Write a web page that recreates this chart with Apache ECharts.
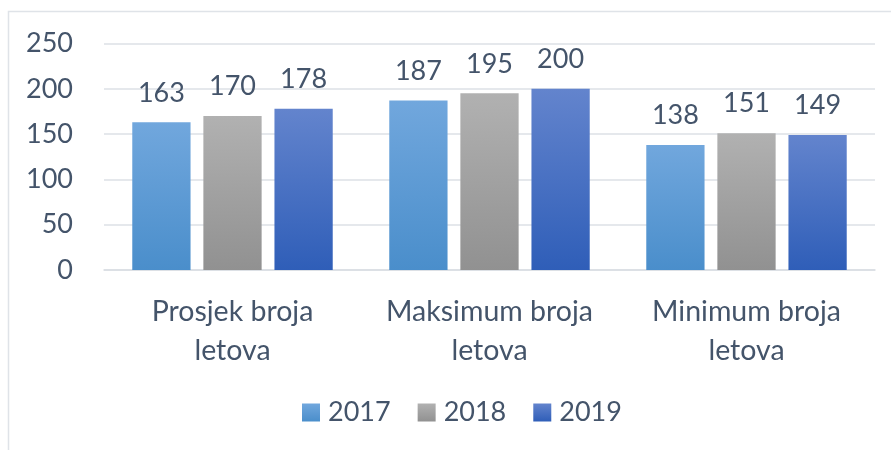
<!DOCTYPE html>
<html>
<head>
<meta charset="utf-8">
<script src="https://cdn.jsdelivr.net/npm/echarts@6/dist/echarts.min.js"></script>
<style>
  html, body { margin: 0; padding: 0; background: #fff; }
</style>
</head>
<body>
<div id="chart" style="width: 891px; height: 450px;"></div>
<script>
    var categories = ['Prosjek broja\nletova', 'Maksimum broja\nletova', 'Minimum broja\nletova'];
    var years = ['2017', '2018', '2019'];
    var values2017 = [163, 187, 138];
    var values2018 = [170, 195, 151];
    var values2019 = [178, 200, 149];
    var yTicks = [0, 50, 100, 150, 200, 250];

    var textColor = '#44546a';
    var fontName = 'Lato';

    function grad(top, bottom) {
        return new echarts.graphic.LinearGradient(0, 0, 0, 1, [
            {offset: 0, color: top},
            {offset: 1, color: bottom}
        ]);
    }

    var colors = [
        grad('#71a7dd', '#4a8ecb'),
        grad('#b1b1b1', '#919191'),
        grad('#6384cd', '#2f5eb8')
    ];
    var seriesData = [values2017, values2018, values2019];

    var myChart = echarts.init(document.getElementById('chart'));

    var series = years.map(function (y, i) {
        return {
            name: y,
            type: 'bar',
            data: seriesData[i],
            barGap: '22%',
            barCategoryGap: '22%',
            itemStyle: {color: colors[i]},
            label: {
                show: true,
                position: 'top',
                distance: 16,
                color: textColor,
                fontFamily: fontName,
                fontSize: 27
            }
        };
    });

    var option = {
        backgroundColor: '#fff',
        animation: false,
        textStyle: {fontFamily: fontName},
        graphic: [{
            type: 'rect',
            shape: {x: 8.5, y: 11.5, width: 900, height: 460},
            style: {fill: 'none', stroke: '#dfe3e8', lineWidth: 1.5},
            silent: true
        }],
        grid: {left: 104, right: 16, top: 43.5, bottom: 180},
        legend: {
            data: years,
            bottom: 19,
            left: 297,
            itemWidth: 18,
            itemHeight: 18,
            itemGap: 27,
            icon: 'rect',
            textStyle: {color: textColor, fontSize: 27, fontFamily: fontName, padding: [0, 0, 0, 3]}
        },
        xAxis: {
            type: 'category',
            data: categories,
            axisTick: {show: false},
            axisLine: {lineStyle: {color: '#d9dde2', width: 1.5}},
            axisLabel: {
                color: textColor,
                fontSize: 28.5,
                fontFamily: fontName,
                lineHeight: 39,
                margin: 22,
                interval: 0
            }
        },
        yAxis: {
            type: 'value',
            min: yTicks[0],
            max: yTicks[yTicks.length - 1],
            interval: 50,
            axisLine: {show: false},
            axisTick: {show: false},
            splitLine: {lineStyle: {color: '#dde1e6', width: 1.5}},
            axisLabel: {
                color: textColor,
                fontSize: 27,
                fontFamily: fontName,
                margin: 31
            }
        },
        series: series
    };

    myChart.setOption(option);
</script>
</body>
</html>
